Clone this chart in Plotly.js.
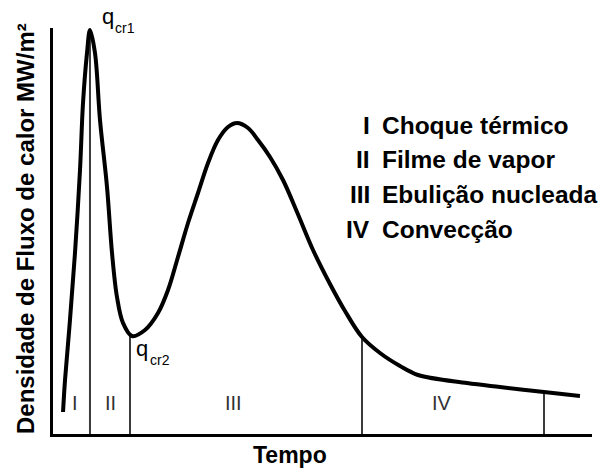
<!DOCTYPE html>
<html>
<head>
<meta charset="utf-8">
<script src="https://cdn.plot.ly/plotly-3.0.1.min.js"></script>
<style>
  html, body { margin: 0; padding: 0; background: #fff; }
  #chart { width: 602px; height: 469px; }
</style>
</head>
<body>
<div id="chart"></div>
<script>
// Time (arbitrary units, 0-100) and heat-flux density (arbitrary units, 0-100)
const timeX = [1.86, 2.23, 3.15, 4.08, 5.01, 5.57, 6.31, 6.86, 7.79, 8.72, 10.02, 10.95, 11.87, 12.99, 14.66, 17.07, 19.48, 21.34, 23.19, 25.05, 26.90, 28.76, 30.61, 32.47, 34.14, 36.18, 38.03, 40.26, 42.67, 45.27, 48.24, 51.39, 54.17, 57.33, 60.67, 64.38, 67.72, 76.81, 82.93, 91.09, 97.77];
const fluxY = [5.42, 13.30, 28.08, 44.58, 65.02, 81.53, 93.84, 99.51, 93.84, 77.34, 60.84, 44.58, 33.74, 27.34, 24.14, 25.62, 29.80, 35.47, 43.60, 51.97, 59.36, 66.75, 72.41, 75.62, 76.60, 75.37, 72.41, 68.23, 62.56, 54.68, 45.32, 36.95, 30.30, 23.89, 19.95, 16.75, 14.53, 12.56, 11.58, 10.34, 9.36];

// Region boundaries (time) and the height where each boundary meets the curve
const boundaryTime = [6.86, 14.29, 57.33, 91.09];
const boundaryTop = [99.5, 24.3, 23.9, 10.4];

// Region labels and where they sit along the time axis
const regionLabels = ['I', 'II', 'III', 'IV'];
const regionTime = [4.15, 10.67, 33.45, 72.2];

// Legend of the regions
const legendNumerals = ['I', 'II', 'III', 'IV'];
const legendNames = ['Choque térmico', 'Filme de vapor', 'Ebulição nucleada', 'Convecção'];

const FONT = 'Liberation Sans, Arial, Helvetica, sans-serif';

// Build boundary line segments from the arrays
const bx = [], by = [];
boundaryTime.forEach((t, i) => { bx.push(t, t, null); by.push(0, boundaryTop[i], null); });

const traces = [
  { x: bx, y: by, mode: 'lines', line: { color: '#3c3c3c', width: 2 }, hoverinfo: 'skip', showlegend: false },
  { x: timeX, y: fluxY, mode: 'lines', line: { color: '#000', width: 4, shape: 'spline', smoothing: 1 }, showlegend: false }
];

const annotations = [];
regionLabels.forEach((lab, i) => {
  annotations.push({ x: regionTime[i], y: 7.6, xref: 'x', yref: 'y', text: lab, showarrow: false,
    xanchor: 'center', yanchor: 'middle', font: { family: FONT, size: 20, color: '#333' } });
});
legendNumerals.forEach((num, i) => {
  const yy = 76.1 - i * 8.55;
  annotations.push({ x: 59.18, y: yy, xref: 'x', yref: 'y', text: '<b>' + num + '</b>', showarrow: false,
    xanchor: 'right', yanchor: 'middle', font: { family: FONT, size: 24.5, color: '#000' } });
  annotations.push({ x: 60.6, y: yy, xref: 'x', yref: 'y', text: '<b>' + legendNames[i] + '</b>', showarrow: false,
    xanchor: 'left', yanchor: 'middle', font: { family: FONT, size: 24.5, color: '#000' } });
});
// Critical flux labels
annotations.push({ x: 0.087, y: 1.0276, xref: 'paper', yref: 'paper', text: 'q', showarrow: false, xanchor: 'left', yanchor: 'middle', font: { family: FONT, size: 22, color: '#000' } });
annotations.push({ x: 0.1113, y: 1.0, xref: 'paper', yref: 'paper', text: 'cr1', showarrow: false, xanchor: 'left', yanchor: 'middle', font: { family: FONT, size: 14, color: '#000' } });
annotations.push({ x: 15.03, y: 21.0, xref: 'x', yref: 'y', text: 'q', showarrow: false, xanchor: 'left', yanchor: 'middle', font: { family: FONT, size: 22, color: '#000' } });
annotations.push({ x: 17.63, y: 18.2, xref: 'x', yref: 'y', text: 'cr2', showarrow: false, xanchor: 'left', yanchor: 'middle', font: { family: FONT, size: 14, color: '#000' } });
// Axis titles
annotations.push({ x: 0.44, y: -0.052, xref: 'paper', yref: 'paper', text: '<b>Tempo</b>', showarrow: false, xanchor: 'center', yanchor: 'middle', font: { family: FONT, size: 23, color: '#000' } });
annotations.push({ x: -0.05, y: 0.505, xref: 'paper', yref: 'paper', text: '<b>Densidade de Fluxo de calor MW/m²</b>', textangle: -90, showarrow: false, xanchor: 'center', yanchor: 'middle', font: { family: FONT, size: 24, color: '#000' } });

const axisCommon = { showline: true, linewidth: 3, linecolor: '#000', showgrid: false, zeroline: false,
  showticklabels: false, ticks: '', fixedrange: true };

const layout = {
  width: 602, height: 469,
  margin: { l: 53, r: 10, t: 28, b: 35 },
  paper_bgcolor: '#fff', plot_bgcolor: '#fff',
  xaxis: Object.assign({ range: [0, 100] }, axisCommon),
  yaxis: Object.assign({ range: [0, 100] }, axisCommon),
  annotations: annotations,
  showlegend: false
};

Plotly.newPlot('chart', traces, layout, { displayModeBar: false, staticPlot: true });
</script>
</body>
</html>
